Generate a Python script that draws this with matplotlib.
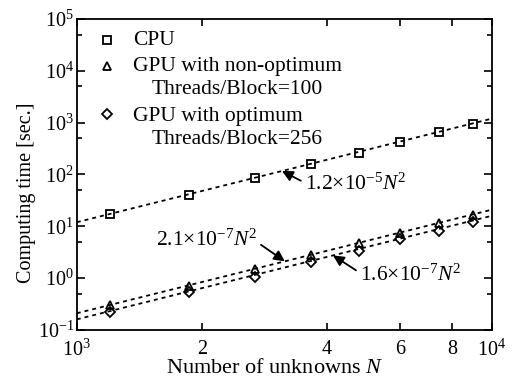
import numpy as np
import matplotlib
matplotlib.use("Agg")
import matplotlib.pyplot as plt
from matplotlib.ticker import FixedLocator, FixedFormatter, NullLocator

plt.rcParams['font.family'] = ['Liberation Serif', 'DejaVu Serif']
plt.rcParams['mathtext.fontset'] = 'custom'
plt.rcParams['mathtext.rm'] = 'Liberation Serif'
plt.rcParams['mathtext.it'] = 'Liberation Serif:italic'
plt.rcParams['mathtext.bf'] = 'Liberation Serif:bold'

# measured points
n_unknowns = [1200, 1860, 2690, 3660, 4780, 6000, 7450, 9000]
cpu_time = [17.3, 40, 85, 160, 258, 424, 660, 930]
gpu_100_time = [0.30, 0.71, 1.5, 2.8, 4.8, 7.4, 11.6, 16.5]
gpu_256_time = [0.22, 0.53, 1.05, 2.05, 3.3, 5.7, 8.2, 12.0]

# fitted N^2 coefficients
coef_cpu = 1.2e-5
coef_gpu_100 = 2.1e-7
coef_gpu_256 = 1.6e-7

x_ticks = [1e3, 2e3, 4e3, 6e3, 8e3, 1e4]
x_ticklabels = ['$10^3$', '2', '4', '6', '8', '$10^4$']
y_major = [1e-1, 1e0, 1e1, 1e2, 1e3, 1e4, 1e5]
y_ticklabels = ['$10^{-1}$', '$10^0$', '$10^1$', '$10^2$', '$10^3$', '$10^4$', '$10^5$']
y_minor = [5e-1, 5e0, 5e1, 5e2, 5e3, 5e4]

fig = plt.figure(figsize=(5.12, 3.81), dpi=100)
ax = fig.add_axes([0.150, 0.134, 0.811, 0.816])

n_fit = np.array([1e3, 1e4])
dot = (0, (2.2, 2.2))
ax.plot(n_fit, coef_cpu * n_fit**2, color='k', ls=dot, lw=1.3)
ax.plot(n_fit, coef_gpu_100 * n_fit**2, color='k', ls=dot, lw=1.3)
ax.plot(n_fit, coef_gpu_256 * n_fit**2, color='k', ls=dot, lw=1.3)

mk = dict(ls='none', mfc='none', mec='k', mew=1.3, ms=6)
ax.plot(n_unknowns, cpu_time, marker='s', **mk)
ax.plot(n_unknowns, gpu_100_time, marker='^', **mk)
ax.plot(n_unknowns, gpu_256_time, marker='D', **{**mk, 'ms': 5.5})

ax.set_xscale('log')
ax.set_yscale('log')
ax.set_xlim(1e3, 1e4)
ax.set_ylim(1e-1, 1e5)

ax.xaxis.set_major_locator(FixedLocator(x_ticks))
ax.xaxis.set_major_formatter(FixedFormatter(x_ticklabels))
ax.xaxis.set_minor_locator(NullLocator())
ax.yaxis.set_major_locator(FixedLocator(y_major))
ax.yaxis.set_major_formatter(FixedFormatter(y_ticklabels))
ax.yaxis.set_minor_locator(FixedLocator(y_minor))

ax.tick_params(which='both', direction='in', top=True, right=True,
               labelsize=14.5, width=1.2)
ax.tick_params(axis='x', which='major', length=5, pad=7)
ax.tick_params(axis='y', which='major', length=6, pad=2)
ax.tick_params(axis='y', which='minor', length=3.5)
for s in ax.spines.values():
    s.set_linewidth(1.3)

ax.set_xlabel('Number of unknowns $N$', fontsize=16)
ax.set_ylabel('Computing time [sec.]', fontsize=14.5)
ax.xaxis.set_label_coords(0.477, -0.095)
ax.yaxis.set_label_coords(-0.099, 0.44)

# legend drawn by hand so the marker sits on the first line
fs = 15.5
leg_x, txt_x, txt2_x = 0.072, 0.135, 0.181
ax.plot([leg_x], [0.932], marker='s', transform=ax.transAxes, **mk)
ax.plot([leg_x], [0.848], marker='^', transform=ax.transAxes, **mk)
ax.plot([leg_x], [0.694], marker='D', transform=ax.transAxes, **{**mk, 'ms': 5.5})
ax.text(txt_x, 0.932, 'CPU', transform=ax.transAxes, fontsize=fs, va='center')
ax.text(txt_x, 0.846, 'GPU with non-optimum', transform=ax.transAxes, fontsize=fs, va='center')
ax.text(txt2_x, 0.772, 'Threads/Block=100', transform=ax.transAxes, fontsize=fs, va='center')
ax.text(txt_x, 0.685, 'GPU with optimum', transform=ax.transAxes, fontsize=fs, va='center')
ax.text(txt2_x, 0.611, 'Threads/Block=256', transform=ax.transAxes, fontsize=fs, va='center')

arrow = dict(arrowstyle='-|>', color='k', lw=1.3, mutation_scale=16, shrinkA=1, shrinkB=0)
ax.annotate(r'1.2$\times$10$^{-5}$$N^2$', xy=(3120, coef_cpu * 3120**2), xytext=(3540, 66),
            fontsize=fs, ha='left', va='center',
            arrowprops={**arrow, 'relpos': (0, 0.55)})
ax.annotate(r'2.1$\times$10$^{-7}$$N^2$', xy=(3170, coef_gpu_100 * 3170**2), xytext=(2717, 5.45),
            fontsize=fs, ha='right', va='center',
            arrowprops={**arrow, 'relpos': (1, 0.4)})
ax.annotate(r'1.6$\times$10$^{-7}$$N^2$', xy=(4140, coef_gpu_256 * 4140**2), xytext=(4808, 1.15),
            fontsize=fs, ha='left', va='center',
            arrowprops={**arrow, 'relpos': (0, 0.6)})

fig.savefig('out.png', dpi=100)
